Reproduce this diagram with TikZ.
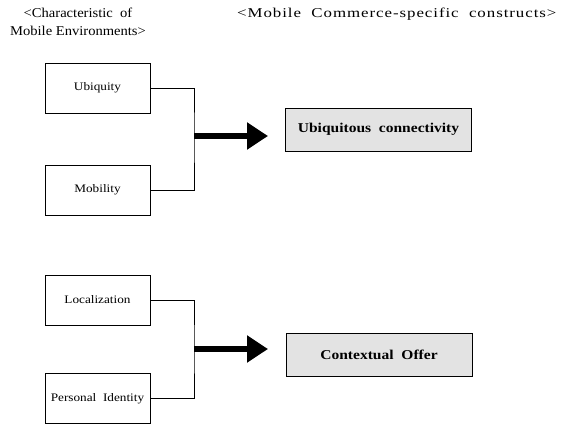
\documentclass[tikz,border=0pt]{standalone}
\usepackage{fontspec}
\setmainfont{Liberation Serif}
\newfontfamily\labelfont[FakeStretch=1.15]{Liberation Serif}
\newfontfamily\headfont[FakeStretch=1.08]{Liberation Serif}
\newfontfamily\wideheadfont[FakeStretch=1.25,LetterSpace=7]{Liberation Serif}
\usetikzlibrary{arrows.meta}
\begin{document}
\begin{tikzpicture}[x=1pt,y=-1pt,
  srcbox/.style={draw,line width=0.8pt,minimum width=105pt,minimum height=50pt,inner sep=0pt,font=\labelfont\fontsize{11.5}{13}\selectfont},
  goalbox/.style={draw,line width=0.8pt,fill=gray!22,minimum width=186pt,minimum height=43pt,inner sep=0pt,font=\labelfont\bfseries\fontsize{13.5}{15}\selectfont},
  link/.style={line width=0.8pt},
  bigarrow/.style={line width=6.5pt,-{Triangle[length=21pt,width=26pt]}},
  head/.style={font=\headfont\fontsize{13.5}{18}\selectfont,align=center,inner sep=0pt}]
\useasboundingbox (0,0) rectangle (569,425);
% column headings
\node[head] (hl) at (78,22) {<Characteristic\ \ of\\Mobile Environments>};
\node[head,anchor=base west,font=\wideheadfont\fontsize{13.5}{18}\selectfont] (hr) at (237,18) {<Mobile\ \ Commerce-specific\ \ constructs>};
% first group
\node[srcbox] (ubi) at (97.5,88) {Ubiquity};
\node[srcbox] (mob) at (97.5,190) {Mobility};
\node[goalbox] (uc) at (378.5,129.5) {Ubiquitous\ \ connectivity};
\coordinate (j1) at (194,136);
\coordinate (t1) at (268,136);
\draw[link] (ubi.east) -| (j1) |- (mob.east);
\draw[bigarrow] (j1) -- (t1);
% second group
\node[srcbox] (loc) at (97.5,300) {Localization};
\node[srcbox] (pid) at (97.5,398.5) {Personal\ \ Identity};
\node[goalbox] (co) at (379,355) {Contextual\ \ Offer};
\coordinate (j2) at (194,349);
\coordinate (t2) at (268,349);
\draw[link] (loc.east) -| (j2) |- (pid.east);
\draw[bigarrow] (j2) -- (t2);
\end{tikzpicture}
\end{document}
